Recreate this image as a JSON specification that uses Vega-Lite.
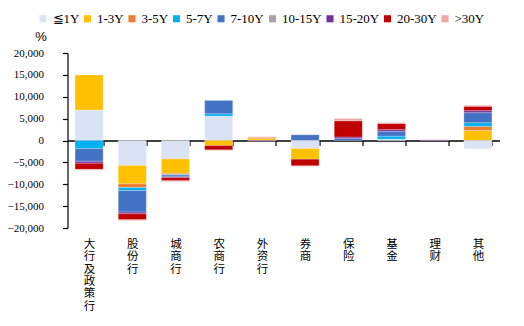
{
  "$schema": "https://vega.github.io/schema/vega-lite/v6.json",
  "width": 432,
  "height": 175,
  "autosize": {"type": "none"},
  "padding": {"left": 67.5, "top": 53, "right": 24.5, "bottom": 98},
  "background": "white",
  "data": {"values": [
    {"inst": "大行及政策行", "term": "≦1Y", "v": 6950},
    {"inst": "大行及政策行", "term": "1-3Y", "v": 8000},
    {"inst": "大行及政策行", "term": "5-7Y", "v": -1850},
    {"inst": "大行及政策行", "term": "7-10Y", "v": -2900},
    {"inst": "大行及政策行", "term": "15-20Y", "v": -450},
    {"inst": "大行及政策行", "term": "20-30Y", "v": -1400},
    {"inst": "大行及政策行", "term": ">30Y", "v": -200},
    {"inst": "股份行", "term": "≦1Y", "v": -5700},
    {"inst": "股份行", "term": "1-3Y", "v": -4200},
    {"inst": "股份行", "term": "3-5Y", "v": -850},
    {"inst": "股份行", "term": "5-7Y", "v": -700},
    {"inst": "股份行", "term": "7-10Y", "v": -4900},
    {"inst": "股份行", "term": "15-20Y", "v": -380},
    {"inst": "股份行", "term": "20-30Y", "v": -1380},
    {"inst": "股份行", "term": ">30Y", "v": -200},
    {"inst": "城商行", "term": "≦1Y", "v": -4200},
    {"inst": "城商行", "term": "1-3Y", "v": -3300},
    {"inst": "城商行", "term": "3-5Y", "v": -300},
    {"inst": "城商行", "term": "5-7Y", "v": -100},
    {"inst": "城商行", "term": "7-10Y", "v": -400},
    {"inst": "城商行", "term": "15-20Y", "v": -200},
    {"inst": "城商行", "term": "20-30Y", "v": -700},
    {"inst": "城商行", "term": ">30Y", "v": -200},
    {"inst": "农商行", "term": "≦1Y", "v": 5580},
    {"inst": "农商行", "term": "5-7Y", "v": 530},
    {"inst": "农商行", "term": "7-10Y", "v": 3060},
    {"inst": "农商行", "term": "1-3Y", "v": -1150},
    {"inst": "农商行", "term": "20-30Y", "v": -1000},
    {"inst": "农商行", "term": ">30Y", "v": -150},
    {"inst": "外资行", "term": "1-3Y", "v": 450},
    {"inst": "外资行", "term": "3-5Y", "v": 300},
    {"inst": "外资行", "term": ">30Y", "v": 100},
    {"inst": "外资行", "term": "15-20Y", "v": -150},
    {"inst": "券商", "term": "7-10Y", "v": 1300},
    {"inst": "券商", "term": "≦1Y", "v": -1830},
    {"inst": "券商", "term": "1-3Y", "v": -2440},
    {"inst": "券商", "term": "20-30Y", "v": -1530},
    {"inst": "券商", "term": ">30Y", "v": -100},
    {"inst": "保险", "term": "7-10Y", "v": 450},
    {"inst": "保险", "term": "15-20Y", "v": 350},
    {"inst": "保险", "term": "20-30Y", "v": 3700},
    {"inst": "保险", "term": ">30Y", "v": 550},
    {"inst": "基金", "term": "≦1Y", "v": 300},
    {"inst": "基金", "term": "5-7Y", "v": 700},
    {"inst": "基金", "term": "7-10Y", "v": 1100},
    {"inst": "基金", "term": "15-20Y", "v": 400},
    {"inst": "基金", "term": "20-30Y", "v": 1400},
    {"inst": "基金", "term": ">30Y", "v": 200},
    {"inst": "理财", "term": "15-20Y", "v": 150},
    {"inst": "理财", "term": ">30Y", "v": 50},
    {"inst": "其他", "term": "1-3Y", "v": 2300},
    {"inst": "其他", "term": "3-5Y", "v": 920},
    {"inst": "其他", "term": "5-7Y", "v": 840},
    {"inst": "其他", "term": "7-10Y", "v": 2300},
    {"inst": "其他", "term": "15-20Y", "v": 460},
    {"inst": "其他", "term": "20-30Y", "v": 1000},
    {"inst": "其他", "term": ">30Y", "v": 230},
    {"inst": "其他", "term": "≦1Y", "v": -1900}
  ]},
  "transform": [
    {"calculate": "indexof(['≦1Y','1-3Y','3-5Y','5-7Y','7-10Y','10-15Y','15-20Y','20-30Y','>30Y'], datum.term)", "as": "rank"}
  ],
  "mark": {"type": "bar", "stroke": "#ffffff", "strokeWidth": 0.4, "strokeOpacity": 0.6},
  "encoding": {
    "x": {
      "field": "inst", "type": "nominal",
      "sort": ["大行及政策行", "股份行", "城商行", "农商行", "外资行", "券商", "保险", "基金", "理财", "其他"],
      "scale": {"paddingInner": 0.35, "paddingOuter": 0.175},
      "axis": {
        "title": null, "orient": "bottom", "offset": -87.5,
        "labelAngle": 0, "labelExpr": "split(datum.label, '')",
        "labelFont": "Noto Sans CJK SC", "labelFontSize": 11.5, "labelLineHeight": 12.3,
        "labelColor": "#000000", "labelPadding": 93, "labelBaseline": "top",
        "domainColor": "#000000", "domainWidth": 1.5,
        "tickColor": "#000000", "tickSize": 5, "tickWidth": 1.2, "tickBand": "extent",
        "bandPosition": 0
      }
    },
    "y": {
      "field": "v", "type": "quantitative",
      "stack": "zero",
      "scale": {"domain": [-20000, 20000], "nice": false},
      "axis": {
        "title": "%", "titleAngle": 0, "titleX": -27, "titleY": -17,
        "titleAlign": "center", "titleBaseline": "middle",
        "titleFont": "Liberation Sans", "titleFontSize": 13, "titleFontWeight": "normal", "titleColor": "#000000",
        "values": [-20000, -15000, -10000, -5000, 0, 5000, 10000, 15000, 20000],
        "format": ",.0f", "grid": false,
        "labelFont": "Liberation Serif", "labelFontSize": 11, "labelColor": "#000000", "labelPadding": 19,
        "domainColor": "#000000", "domainWidth": 1.2,
        "tickColor": "#000000", "tickSize": 5, "tickWidth": 1.2
      }
    },
    "color": {
      "field": "term", "type": "nominal",
      "scale": {
        "domain": ["≦1Y", "1-3Y", "3-5Y", "5-7Y", "7-10Y", "10-15Y", "15-20Y", "20-30Y", ">30Y"],
        "range": ["#DAE3F3", "#FFC000", "#ED7D31", "#00B0F0", "#4472C4", "#A5A5A5", "#7030A0", "#C00000", "#EBA9A9"]
      },
      "legend": {
        "title": null, "orient": "none", "legendX": -31, "legendY": -41,
        "direction": "horizontal", "columns": 9, "columnPadding": 1.5,
        "symbolType": "square", "symbolSize": 50, "symbolStrokeWidth": 0, "labelOffset": 3,
        "labelFont": "Liberation Serif", "labelFontSize": 13, "labelColor": "#000000"
      }
    },
    "order": {"field": "rank", "type": "quantitative"}
  },
  "config": {"view": {"stroke": null}}
}
